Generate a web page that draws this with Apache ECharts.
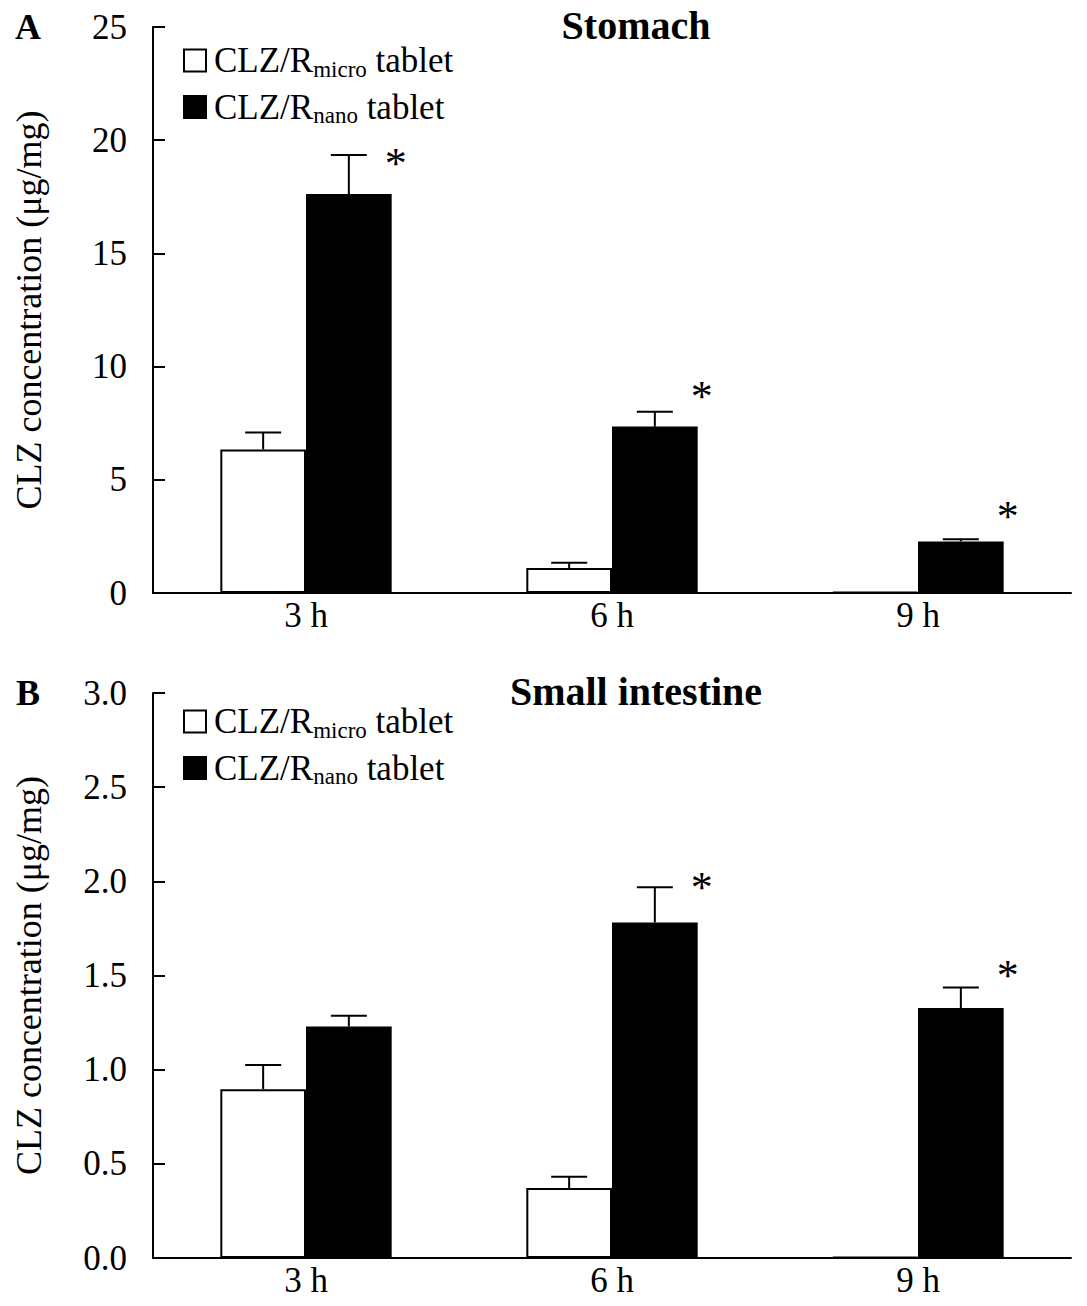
<!DOCTYPE html>
<html>
<head>
<meta charset="utf-8">
<script src="https://cdn.jsdelivr.net/npm/echarts@6/dist/echarts.min.js"></script>
<style>
html,body{margin:0;padding:0;background:#fff;}
#panelA,#panelB{width:1087px;height:653px;}
</style>
</head>
<body>
<div id="panelA"></div>
<div id="panelB"></div>
<script>
// ---------- data ----------
const categories = ['3 h', '6 h', '9 h'];
const seriesKeys = ['micro', 'nano'];

// Panel A: Stomach (µg/mg)
const stomachMicro    = [6.34, 1.10, 0.05];
const stomachMicroErr = [0.75, 0.24, 0];
const stomachNano     = [17.62, 7.35, 2.28];
const stomachNanoErr  = [1.73, 0.66, 0.09];
const stomachStar     = [19.3, 9.0, 3.7];
const stomachTicks    = {min: 0, max: 25, interval: 5, decimals: 0};

// Panel B: Small intestine (µg/mg)
const intestineMicro    = [0.896, 0.372, 0.005];
const intestineMicroErr = [0.129, 0.059, 0];
const intestineNano     = [1.229, 1.782, 1.327];
const intestineNanoErr  = [0.057, 0.186, 0.109];
const intestineStar     = [null, 2.005, 1.539];
const intestineTicks    = {min: 0, max: 3, interval: 0.5, decimals: 1};

const yAxisTitle = 'CLZ concentration (μg/mg)';

// ---------- style ----------
const FONT = '"Liberation Serif","Times New Roman",serif';
const CAT_GAP = 0.44;
const FS = 35;

function errorSeries(means, errs, side) {
  return {
    type: 'custom',
    encode: {x: 0, y: 1},
    data: means.map((m, i) => [i, m, errs[i]]),
    z: 3,
    silent: true,
    renderItem: function (params, api) {
      const i = api.value(0), m = api.value(1), e = api.value(2);
      if (!e) return null;
      const band = api.size([1, 0])[0];
      const bw = band * (1 - CAT_GAP) / 2;
      const base = api.coord([i, m]);
      const top = api.coord([i, m + e]);
      const x = base[0] + side * bw / 2;
      const half = 18;
      return {
        type: 'group',
        children: [
          {type: 'line', shape: {x1: x, y1: base[1], x2: x, y2: top[1]}, style: {stroke: '#000', lineWidth: 2}},
          {type: 'line', shape: {x1: x - half, y1: top[1], x2: x + half, y2: top[1]}, style: {stroke: '#000', lineWidth: 2}}
        ]
      };
    }
  };
}

function starSeries(stars) {
  return {
    type: 'custom',
    encode: {x: 0, y: 1},
    data: stars.map((s, i) => [i, s == null ? '-' : s]),
    z: 4,
    silent: true,
    renderItem: function (params, api) {
      const i = api.value(0), s = api.value(1);
      if (s == null || isNaN(s)) return null;
      const band = api.size([1, 0])[0];
      const bw = band * (1 - CAT_GAP) / 2;
      const p = api.coord([i, s]);
      const fs = 44;
      return {
        type: 'text',
        x: p[0] + bw + 4,
        y: p[1] + 0.16 * fs,
        style: {text: '*', fontSize: fs, fontFamily: FONT, fill: '#000', align: 'center', verticalAlign: 'middle'}
      };
    }
  };
}

function buildOption(cfg) {
  return {
    animation: false,
    backgroundColor: '#fff',
    grid: {left: 153, top: cfg.gridTop, width: 918, height: cfg.gridHeight, containLabel: false},
    legend: {
      orient: 'vertical',
      left: 183,
      top: cfg.legendTop,
      padding: 0,
      itemGap: 9,
      itemWidth: 22,
      itemHeight: 22,
      icon: 'rect',
      selectedMode: false,
      data: seriesKeys,
      formatter: function (name) {
        return '{f|CLZ/R}{s|' + name + '}{m| tablet}';
      },
      textStyle: {
        color: '#000',
        rich: {
          f: {fontSize: FS, fontFamily: FONT, color: '#000', lineHeight: 40, padding: [0, 0, 0, 3]},
          m: {fontSize: FS, fontFamily: FONT, color: '#000', lineHeight: 40},
          s: {fontSize: 23, fontFamily: FONT, color: '#000', lineHeight: 18, verticalAlign: 'bottom'}
        }
      }
    },
    graphic: [
      {type: 'text', x: 28, y: cfg.gridTop, style: {text: cfg.letter, fontSize: 36, fontWeight: 'bold', fontFamily: FONT, fill: '#000', align: 'center', verticalAlign: 'middle'}},
      {type: 'text', x: 636, y: cfg.gridTop - 2, style: {text: cfg.title, fontSize: 40, fontWeight: 'bold', fontFamily: FONT, fill: '#000', align: 'center', verticalAlign: 'middle'}}
    ],
    xAxis: {
      type: 'category',
      data: categories,
      axisLine: {lineStyle: {color: '#000', width: 2}},
      axisTick: {show: false},
      axisLabel: {color: '#000', fontSize: FS, fontFamily: FONT, margin: 5},
      splitLine: {show: false}
    },
    yAxis: {
      type: 'value',
      min: cfg.ticks.min,
      max: cfg.ticks.max,
      interval: cfg.ticks.interval,
      name: yAxisTitle,
      nameLocation: 'middle',
      nameGap: 106,
      nameTextStyle: {color: '#000', fontSize: 36, fontFamily: FONT},
      axisLine: {show: true, lineStyle: {color: '#000', width: 2}},
      axisTick: {show: true, inside: true, length: 12, lineStyle: {color: '#000', width: 2}},
      axisLabel: {color: '#000', fontSize: FS, fontFamily: FONT, margin: 26,
        formatter: v => v.toFixed(cfg.ticks.decimals)},
      splitLine: {show: false}
    },
    series: [
      {name: 'micro', type: 'bar', data: cfg.micro, barGap: '0%', barCategoryGap: (CAT_GAP * 100) + '%',
        itemStyle: {color: '#fff', borderColor: '#000', borderWidth: 2}, z: 2},
      {name: 'nano', type: 'bar', data: cfg.nano, barGap: '0%', barCategoryGap: (CAT_GAP * 100) + '%',
        itemStyle: {color: '#000', borderColor: '#000', borderWidth: 2}, z: 2},
      errorSeries(cfg.micro, cfg.microErr, -1),
      errorSeries(cfg.nano, cfg.nanoErr, 1),
      starSeries(cfg.star)
    ]
  };
}

const chartA = echarts.init(document.getElementById('panelA'), null, {renderer: 'svg'});
chartA.setOption(buildOption({
  letter: 'A', title: 'Stomach', gridTop: 27, gridHeight: 566, legendTop: 43,
  micro: stomachMicro, microErr: stomachMicroErr, nano: stomachNano, nanoErr: stomachNanoErr,
  star: stomachStar, ticks: stomachTicks
}));

const chartB = echarts.init(document.getElementById('panelB'), null, {renderer: 'svg'});
chartB.setOption(buildOption({
  letter: 'B', title: 'Small intestine', gridTop: 40, gridHeight: 565, legendTop: 51,
  micro: intestineMicro, microErr: intestineMicroErr, nano: intestineNano, nanoErr: intestineNanoErr,
  star: intestineStar, ticks: intestineTicks
}));
</script>
</body>
</html>
